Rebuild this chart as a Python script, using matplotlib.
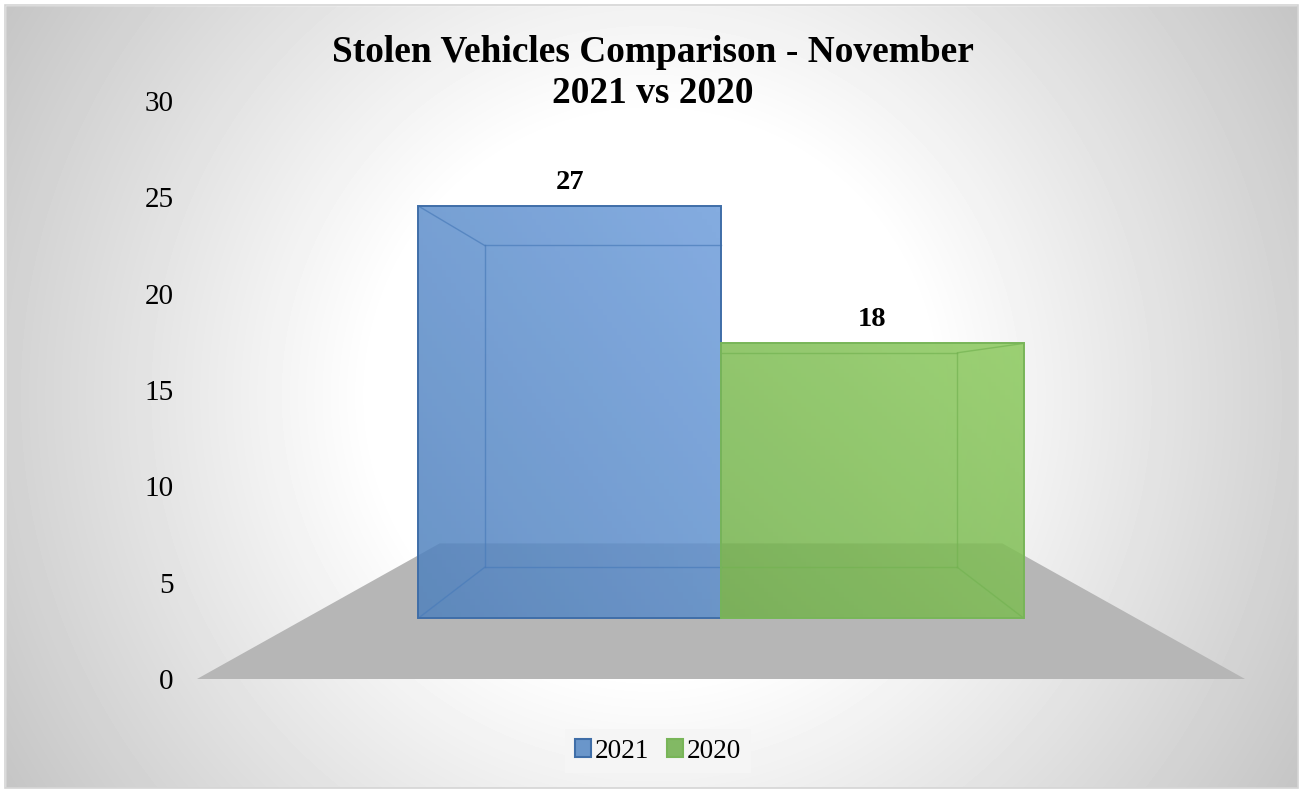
import numpy as np
import matplotlib
matplotlib.use("Agg")
import matplotlib.pyplot as plt
from matplotlib.colors import LinearSegmentedColormap
from matplotlib.patches import Patch, Polygon, Rectangle

categories = ["2021", "2020"]
stolen = [27, 18]
yticks = [0, 5, 10, 15, 20, 25, 30]
title = "Stolen Vehicles Comparison - November\n2021 vs 2020"

W, H = 1302, 791
plt.rcParams["font.family"] = ["Liberation Serif", "DejaVu Serif"]

# perspective of the 3d chart: k is the scale at some depth
HORIZON = 15.2
K_FLOOR_FRONT, K_FLOOR_BACK = 1.0, 0.537
K_BAR_FRONT, K_BAR_BACK = 0.792, 0.619


def project(x, k, v=0.0):
    return (x * k, HORIZON * (1 - k) + v * k)


fig = plt.figure(figsize=(W / 100, H / 100), dpi=100)

# background, radial white to grey
bg = fig.add_axes([0, 0, 1, 1], zorder=0)
bg.axis("off")
yy, xx = np.mgrid[0:H, 0:W]
d = np.hypot(xx - 651, yy - 395)
shade = 1 - 0.23 * np.clip((d - 280) / 480, 0, 1)
bg.imshow(shade, cmap="gray", vmin=0, vmax=1, extent=(0, W, H, 0), aspect="auto")
bg.add_patch(Rectangle((0, 0), 5, H, color="white"))
bg.add_patch(Rectangle((1298, 0), 4, H, color="white"))
bg.add_patch(Rectangle((0, 0), W, 5, color="white"))
bg.add_patch(Rectangle((0, 788), W, 3, color="white"))
bg.add_patch(Rectangle((5, 5), 1293, 783, fill=False, ec="#d4d4d4", lw=1.2))
bg.set_xlim(0, W)
bg.set_ylim(H, 0)

ax = fig.add_axes([197 / W, 1 - 679 / H, 1048 / W, 578 / H], zorder=1)
ax.patch.set_alpha(0)
x_half = 524 / 382
for s in ax.spines.values():
    s.set_visible(False)
ax.set_xticks([])
ax.set_yticks(yticks)
ax.tick_params(axis="y", length=0, pad=17, labelsize=21)

# floor
ax.add_patch(Polygon([project(-x_half, K_FLOOR_FRONT), project(x_half, K_FLOOR_FRONT),
                      project(x_half, K_FLOOR_BACK), project(-x_half, K_FLOOR_BACK)],
                     fc="#b6b6b6", ec="none", zorder=1))

colors = [("#4f81bd", "#6e9ddb", "#3f6ea8", "#4a7cba"),
          ("#71b04b", "#8bc95c", "#78b558", "#74b352")]

for i, (name, val) in enumerate(zip(categories, stolen)):
    x0, x1 = i - 1, i
    low, high, edge, inner = colors[i]
    # front face gradient, lower left to upper right
    fx0, fy0 = project(x0, K_BAR_FRONT)
    fx1, fy1 = project(x1, K_BAR_FRONT, val)
    gx, gy = np.meshgrid(np.linspace(0, 1, 64), np.linspace(0, 1, 64))
    cmap = LinearSegmentedColormap.from_list(name, [low, high])
    ax.imshow((gx + gy) / 2, cmap=cmap, vmin=0, vmax=1, origin="lower",
              extent=(fx0, fx1, fy0, fy1), aspect="auto", alpha=0.85, zorder=2)
    # box lines
    ax.plot(*zip(*[project(x0, K_BAR_BACK), project(x1, K_BAR_BACK)]), color=inner, lw=1, alpha=0.7, zorder=3)
    ax.plot(*zip(*[project(x0, K_BAR_BACK, val), project(x1, K_BAR_BACK, val)]), color=inner, lw=1, alpha=0.7, zorder=3)
    for xc in (x0, x1):
        if xc == 0:
            continue
        ax.plot(*zip(*[project(xc, K_BAR_BACK), project(xc, K_BAR_BACK, val)]), color=inner, lw=1, alpha=0.7, zorder=3)
        ax.plot(*zip(*[project(xc, K_BAR_FRONT), project(xc, K_BAR_BACK)]), color=inner, lw=1, alpha=0.7, zorder=3)
        ax.plot(*zip(*[project(xc, K_BAR_FRONT, val), project(xc, K_BAR_BACK, val)]), color=inner, lw=1, alpha=0.7, zorder=3)
    ax.add_patch(Rectangle((fx0, fy0), fx1 - fx0, fy1 - fy0, fill=False, ec=edge, lw=1.4, zorder=4))
    lx, ly = project((x0 + x1) / 2, K_BAR_FRONT, val)
    ax.annotate(str(val), (lx, ly), xytext=(0, 8), textcoords="offset points",
                ha="center", va="bottom", fontsize=20.5, fontweight="bold", zorder=5)

ax.set_xlim(-x_half, x_half)
ax.set_ylim(0, 30)

fig.text(653 / W, 1 - 73 / H, title, ha="center", va="center", fontsize=26.9,
         fontweight="bold", linespacing=1.2)

handles = [Patch(fc="#6a96ca", ec=colors[0][2], lw=1.5, label=categories[0]),
           Patch(fc="#82b964", ec=colors[1][2], lw=1.5, label=categories[1])]
leg = fig.legend(handles=handles, loc="center", bbox_to_anchor=(658 / W, 1 - 751 / H), ncol=2,
                 fontsize=19.6, frameon=True, framealpha=1, facecolor="#f5f5f5", edgecolor="none",
                 fancybox=False, handlelength=0.6, handleheight=0.6, handletextpad=0.15,
                 columnspacing=0.63, borderpad=0.35, borderaxespad=0)

fig.savefig("out.png", dpi=100)
